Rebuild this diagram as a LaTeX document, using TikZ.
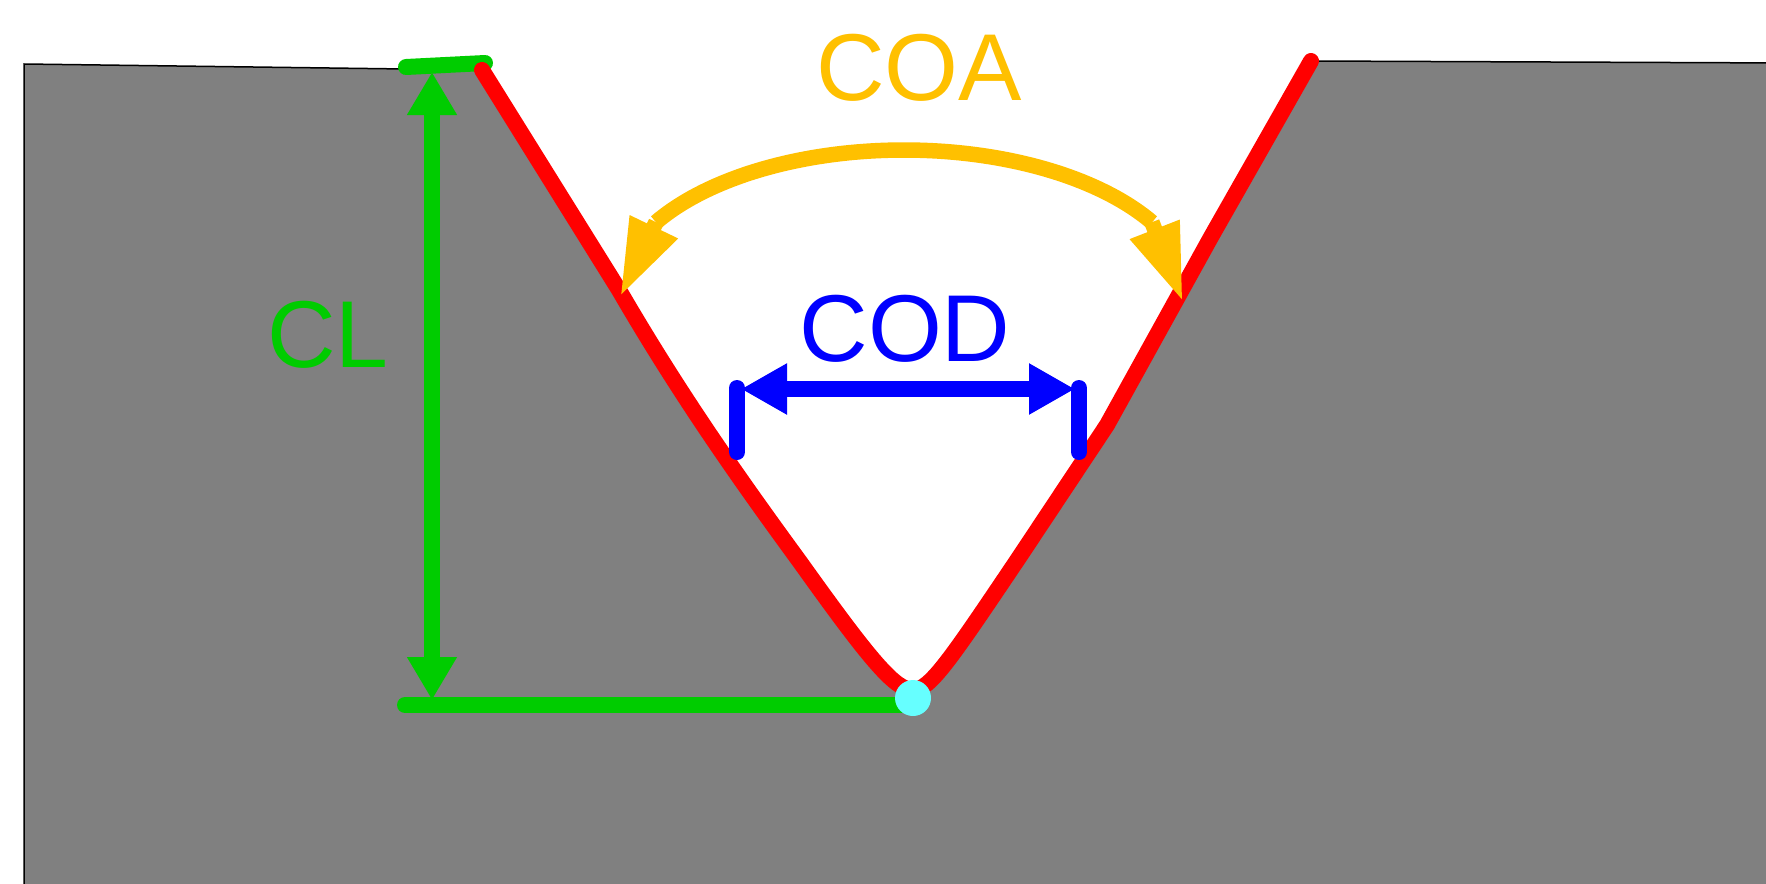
\documentclass[tikz,border=0pt]{standalone}
\usepackage{fontspec}
\setmainfont{Liberation Sans}
\usetikzlibrary{arrows.meta}
\definecolor{groundgray}{RGB}{128,128,128}
\definecolor{clgreen}{RGB}{0,204,0}
\definecolor{coayellow}{RGB}{255,192,0}
\definecolor{codblue}{RGB}{0,0,255}
\definecolor{dotcyan}{RGB}{102,255,255}
\definecolor{groovered}{RGB}{255,0,0}
\begin{document}
\begin{tikzpicture}[x=1pt,y=-1pt,
  lbl/.style={font=\fontsize{95}{95}\selectfont, inner sep=0pt, anchor=base},
  clline/.style={draw=clgreen, line width=16pt, line cap=round},
  clarrow/.style={draw=clgreen, fill=clgreen, line width=16.5pt,
    {Triangle[length=43pt,width=47pt]}-{Triangle[length=43pt,width=47pt]}},
  grooveline/.style={draw=groovered, line width=16pt, line cap=round},
  codline/.style={draw=codblue, line width=16pt, line cap=round},
  codarrow/.style={draw=codblue, fill=codblue, line width=16.5pt,
    {Triangle[length=46pt,width=48pt]}-{Triangle[length=46pt,width=48pt]}},
  coaline/.style={draw=coayellow, line width=15.5pt},
  coahead/.style={draw=coayellow, fill=coayellow, line width=15.5pt,
    -{Triangle[length=78pt,width=49pt]}},
  rootdot/.style={circle, fill=dotcyan, minimum size=36pt, inner sep=0pt}]
\clip (0,0) rectangle (1766,883);
\fill[white] (0,0) rectangle (1766,883);
% ground with groove
\filldraw[fill=groundgray, draw=black, line width=1.5pt]
  (24,64) -- (482,70) -- (619,290)
  .. controls (680,395) and (740,480) .. (800,562)
  .. controls (870,660) and (895,690) .. (913,690)
  .. controls (930,690) and (950,660) .. (1020,556)
  -- (1107,425) -- (1211,237) -- (1311,61) -- (1790,63)
  -- (1790,900) -- (24,900) -- cycle;
% coordinates
\coordinate (tb1) at (406,67);
\coordinate (tb2) at (485,63);
\coordinate (bb1) at (405,705);
\coordinate (bb2) at (913,705);
\coordinate (cltop) at (432,72);
\coordinate (clbot) at (432,700);
\coordinate (codl1) at (737,388);
\coordinate (codl2) at (737,452);
\coordinate (codr1) at (1079,388);
\coordinate (codr2) at (1079,452);
\coordinate (codA) at (741,389);
\coordinate (codB) at (1075,389);
\coordinate (coaL) at (656.1,222.2);
\coordinate (coaLtip) at (620,297);
\coordinate (coaR) at (1151.9,222.2);
\coordinate (coaRtip) at (1183,302);
% CL dimension
\draw[clline] (tb1) -- (tb2);
\draw[clline] (bb1) -- (bb2);
\draw[clarrow] (cltop) -- (clbot);
% groove profile
\draw[grooveline]
  (482,70) -- (619,290)
  .. controls (680,395) and (740,480) .. (800,562)
  .. controls (870,660) and (895,690) .. (913,690)
  .. controls (930,690) and (950,660) .. (1020,556)
  -- (1107,425) -- (1211,237) -- (1311,61);
\node[rootdot] (root) at (913,698) {};
% COD
\draw[codline] (codl1) -- (codl2);
\draw[codline] (codr1) -- (codr2);
\draw[codarrow] (codA) -- (codB);
% COA
\draw[coaline] plot[domain=148.8:31.2, samples=80] ({904+290*cos(\x)},{300-150*sin(\x)});
\draw[coahead] (coaL) -- (coaLtip);
\draw[coahead] (coaR) -- (coaRtip);
% labels
\node[lbl, text=coayellow] (coa) at (919,100) {COA};
\node[lbl, text=clgreen] (cl) at (328,367) {CL};
\node[lbl, text=codblue] (cod) at (905,361) {COD};
\end{tikzpicture}
\end{document}
